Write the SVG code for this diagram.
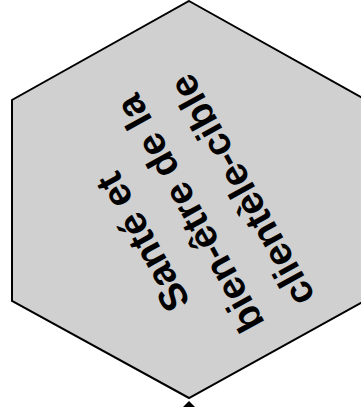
<svg xmlns="http://www.w3.org/2000/svg" width="361" height="407" viewBox="0 0 361 407">
<style>
.hex{fill:#d0d0d0;stroke:#000;stroke-width:2;stroke-linejoin:miter}
.lbl{font-family:"Liberation Sans",Arial,sans-serif;font-weight:bold;font-size:39px;fill:#000;text-anchor:middle}
</style>
<g id="node-hexagon">
<polygon class="hex" points="189,1 366,100 366,300 189,398 12,301 12,100"/>
<g transform="translate(189,214) rotate(-119)">
<text class="lbl" x="-2" y="-41">Santé et</text>
<text class="lbl" x="0" y="14">bien-être de la</text>
<text class="lbl" x="-5" y="71">clientèle-cible</text>
</g>
</g>
<g id="node-below">
<polygon points="189,401 196,408 182,408" fill="#000"/>
</g>
<g id="connectors"></g>
</svg>
